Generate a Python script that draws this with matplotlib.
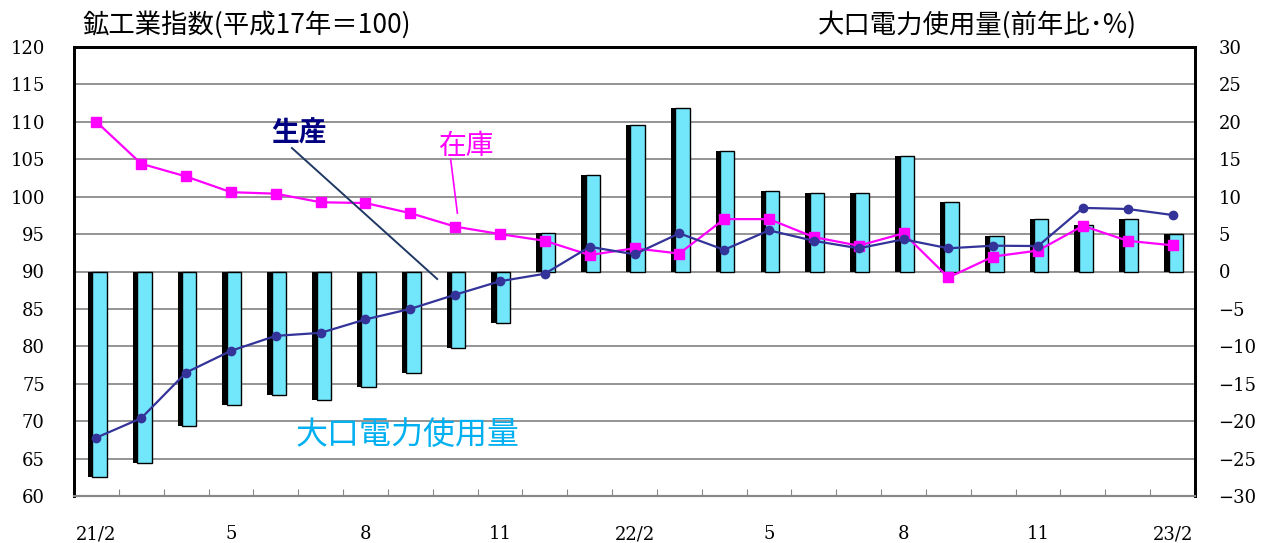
import matplotlib
matplotlib.use('Agg')
import matplotlib.pyplot as plt
import numpy as np

plt.rcParams['font.family'] = ['Noto Sans CJK JP', 'DejaVu Sans']

# monthly data, 21/2 .. 23/2
tick_labels = ['21/2', '5', '8', '11', '22/2', '5', '8', '11', '23/2']
production = [67.8, 70.4, 76.5, 79.4, 81.4, 81.8, 83.6, 85.0, 86.9, 88.7, 89.7,
              93.3, 92.3, 95.1, 92.9, 95.5, 94.1, 93.1, 94.3, 93.1, 93.45, 93.4,
              98.5, 98.35, 97.55]
inventory = [110.0, 104.4, 102.7, 100.6, 100.4, 99.25, 99.15, 97.8, 96.0, 95.0, 94.1,
             92.2, 93.1, 92.4, 97.0, 97.0, 94.6, 93.45, 95.1, 89.2, 92.0, 92.8,
             96.1, 94.1, 93.5]
power = [-27.5, -25.6, -20.7, -17.9, -16.5, -17.2, -15.4, -13.5, -10.2, -6.9, 5.2,
         12.9, 19.6, 21.8, 16.1, 10.8, 10.5, 10.5, 15.5, 9.3, 4.7, 7.0, 6.2, 7.0, 5.0]

x = np.arange(len(production))

fig = plt.figure(figsize=(12.65, 5.43), dpi=100)
ax2 = fig.add_axes([74 / 1265, 1 - 496 / 543, 1121 / 1265, 449 / 543])
ax = ax2.twinx()
ax.set_zorder(ax2.get_zorder() + 1)
ax.patch.set_visible(False)

# bars (right axis) with a dark shadow on the left
ax2.bar(x + 0.02, power, width=0.42, color='black', zorder=2)
ax2.bar(x + 0.07, power, width=0.32, color='#72E6FA', edgecolor='black',
        linewidth=1.0, zorder=3)
ax2.set_ylim(-30, 30)
ax2.set_yticks(np.arange(-30, 31, 5))
ax2.yaxis.tick_right()
ax2.grid(axis='y', color='#777777', linewidth=1.1, zorder=1)
ax2.set_axisbelow(True)

# lines (left axis)
ax.plot(x, inventory, color='#FF00FF', marker='s', markersize=7, linewidth=1.6, zorder=4)
ax.plot(x, production, color='#333399', marker='o', markersize=6, linewidth=1.6, zorder=5)
ax.set_ylim(60, 120)
ax.set_yticks(np.arange(60, 121, 5))
ax.yaxis.tick_left()

ax.set_xlim(-0.5, len(x) - 0.5)
ax2.set_xlim(-0.5, len(x) - 0.5)

# x ticks: marks between months, labels every 3 months
ax2.set_xticks(np.arange(0.5, len(x) - 1, 1.0))
ax2.set_xticklabels([])
ax2.tick_params(axis='x', which='major', direction='in', length=5, color='#888888')
ax2.set_xticks(np.arange(0, len(x), 3), minor=True)
ax2.set_xticklabels(tick_labels, minor=True)
ax2.tick_params(axis='x', which='minor', length=0, pad=21,
                labelfontfamily='DejaVu Serif', labelsize=13)
ax.tick_params(axis='x', which='both', length=0, labelbottom=False)

ax.tick_params(axis='y', length=0, pad=21, labelfontfamily='DejaVu Serif', labelsize=13)
ax2.tick_params(axis='y', length=0, pad=17, labelfontfamily='DejaVu Serif', labelsize=13)

for a in (ax, ax2):
    for s in ('left', 'right', 'top'):
        a.spines[s].set_linewidth(2)
        a.spines[s].set_color('black')
    a.spines['bottom'].set_color('#888888')
    a.spines['bottom'].set_linewidth(1.5)

# annotations
ax.text(4.52, 108.4, '生産', color='#000080', fontsize=20, fontweight='bold',
        ha='center', va='center')
ax.plot([4.36, 7.6], [106.5, 89.0], color='#1F3864', linewidth=1.4, zorder=6)
ax.text(8.26, 106.8, '在庫', color='#FF00FF', fontsize=20, ha='center', va='center')
ax.plot([7.90, 8.05], [105.0, 97.8], color='#FF00FF', linewidth=1.2, zorder=6)
ax.text(6.95, 68.15, '大口電力使用量', color='#00B0F0', fontsize=23,
        ha='center', va='center')

fig.text(82 / 1265, 1 - 25 / 543, '鉱工業指数(平成17年＝100)', fontsize=19,
         ha='left', va='center')
fig.text(818 / 1265, 1 - 25 / 543, '大口電力使用量(前年比･%)', fontsize=19,
         ha='left', va='center')

fig.savefig('out.png', dpi=100)
